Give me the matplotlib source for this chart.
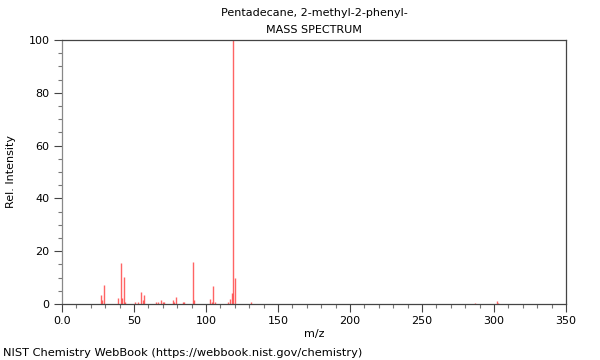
import matplotlib
matplotlib.use("Agg")
import matplotlib.pyplot as plt
from matplotlib.ticker import MultipleLocator, FixedLocator, FixedFormatter

title = "Pentadecane, 2-methyl-2-phenyl-"
subtitle = "MASS SPECTRUM"
footer = "NIST Chemistry WebBook (https://webbook.nist.gov/chemistry)"

mz = [27, 28, 29, 39, 41, 42, 43, 44, 51, 53, 55, 56, 57, 65, 67, 69, 70, 71,
      77, 78, 79, 84, 85, 91, 92, 103, 104, 105, 106, 115, 117, 118, 119, 120,
      131, 287, 302, 303]
intensity = [3.4, 1.5, 7.2, 2.1, 15.4, 2.1, 10.4, 0.9, 0.6, 0.6, 4.4, 1.5, 3.4,
             0.6, 0.6, 1.5, 0.6, 0.9, 1.5, 0.6, 2.8, 0.6, 0.6, 16.0, 1.5,
             1.8, 0.9, 6.8, 0.6, 0.9, 1.8, 4.0, 100.0, 9.7, 0.6, 0.2, 1.2, 0.3]

x_major = [0, 50, 100, 150, 200, 250, 300, 350]
x_labels = ["0.0", "50", "100", "150", "200", "250", "300", "350"]
y_major = [0, 20, 40, 60, 80, 100]

fig = plt.figure(figsize=(6, 3.6), dpi=100)
ax = fig.add_axes([62/600, 1 - 304/360, 504/600, 264/360])

ax.vlines(mz, 0, intensity, colors="#ff3030", linewidth=1.0, alpha=0.75)

ax.set_xlim(0, 350)
ax.set_ylim(0, 100)
ax.xaxis.set_major_locator(FixedLocator(x_major))
ax.xaxis.set_major_formatter(FixedFormatter(x_labels))
ax.xaxis.set_minor_locator(MultipleLocator(10))
ax.yaxis.set_major_locator(FixedLocator(y_major))
ax.yaxis.set_minor_locator(MultipleLocator(5))

for s in ax.spines.values():
    s.set_color("#444444")
    s.set_linewidth(0.9)
ax.spines["left"].set_color("#888888")

ax.tick_params(axis="both", which="major", length=6, width=0.8, color="#444444",
               labelsize=8, pad=3)
ax.tick_params(axis="both", which="minor", length=3, width=0.8, color="#777777")

ax.set_xlabel("m/z", fontsize=8, labelpad=2)
ax.set_ylabel("Rel. Intensity", fontsize=8, labelpad=9)

fig.text(314/600, 1 - 13/360, title, ha="center", va="center", fontsize=8)
fig.text(314/600, 1 - 30/360, subtitle, ha="center", va="center", fontsize=8)
fig.text(3/600, 1 - 353/360, footer, ha="left", va="center", fontsize=8.2)

fig.savefig("out.png", dpi=100)
